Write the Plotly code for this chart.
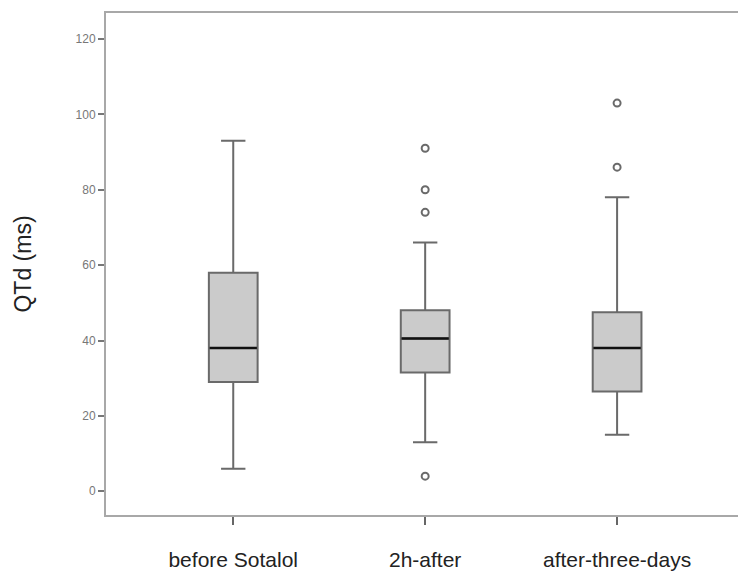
import plotly.graph_objects as go

categories = ["before Sotalol", "2h-after", "after-three-days"]
lower_whisker = [6, 13, 15]
q1_vals = [29, 31.5, 26.5]
median_vals = [38, 40.5, 38]
q3_vals = [58, 48, 47.5]
upper_whisker = [93, 66, 78]

outlier_cats = ["2h-after", "2h-after", "2h-after", "2h-after", "after-three-days", "after-three-days"]
outlier_vals = [91, 80, 74, 4, 103, 86]

y_ticks = [0, 20, 40, 60, 80, 100, 120]

fig = go.Figure()

fig.add_trace(go.Box(
    x=categories,
    q1=q1_vals, median=median_vals, q3=q3_vals,
    lowerfence=lower_whisker, upperfence=upper_whisker,
    fillcolor="#cbcbcb",
    line=dict(color="#6a6a6a", width=2),
    width=0.254,
    whiskerwidth=0.5,
    boxpoints=False,
    showlegend=False,
    hoverinfo="skip",
))

# median emphasis (degenerate box at the median)
fig.add_trace(go.Box(
    x=categories,
    q1=median_vals, median=median_vals, q3=median_vals,
    lowerfence=median_vals, upperfence=median_vals,
    fillcolor="rgba(0,0,0,0)",
    line=dict(color="#111111", width=2.5),
    width=0.246,
    whiskerwidth=0,
    boxpoints=False,
    showlegend=False,
    hoverinfo="skip",
))

fig.add_trace(go.Scatter(
    x=outlier_cats, y=outlier_vals,
    mode="markers",
    marker=dict(symbol="circle-open", size=7, color="#6a6a6a", line=dict(width=2, color="#6a6a6a")),
    showlegend=False,
    hoverinfo="skip",
))

fig.update_layout(
    width=738, height=571,
    margin=dict(l=106, r=0, t=13, b=54),
    plot_bgcolor="white", paper_bgcolor="white",
    font=dict(family="Arial, Liberation Sans, sans-serif", color="#222222"),
    boxmode="overlay",
)

fig.update_xaxes(
    type="category",
    categoryorder="array", categoryarray=categories,
    range=[-0.663, 2.63],
    showgrid=False, zeroline=False,
    showline=True, linecolor="#a8a8a8", linewidth=2, mirror=True,
    ticks="outside", ticklen=8, tickwidth=1.5, tickcolor="#666666",
    ticklabelstandoff=17,
    tickfont=dict(size=21, color="#222222"),
)

fig.update_yaxes(
    range=[-6.3, 126.9],
    tickvals=y_ticks,
    showgrid=False, zeroline=False,
    showline=True, linecolor="#a8a8a8", linewidth=2,
    ticks="outside", ticklen=6, tickwidth=1.5, tickcolor="#777777",
    tickfont=dict(size=12, color="#777777"),
    title=dict(text="QTd (ms)", font=dict(size=23, color="#222222"), standoff=38),
)

fig.write_html(
    "out.html",
    config={"displayModeBar": False},
    post_script="document.body.style.margin='0';document.body.style.overflow='hidden';",
)
